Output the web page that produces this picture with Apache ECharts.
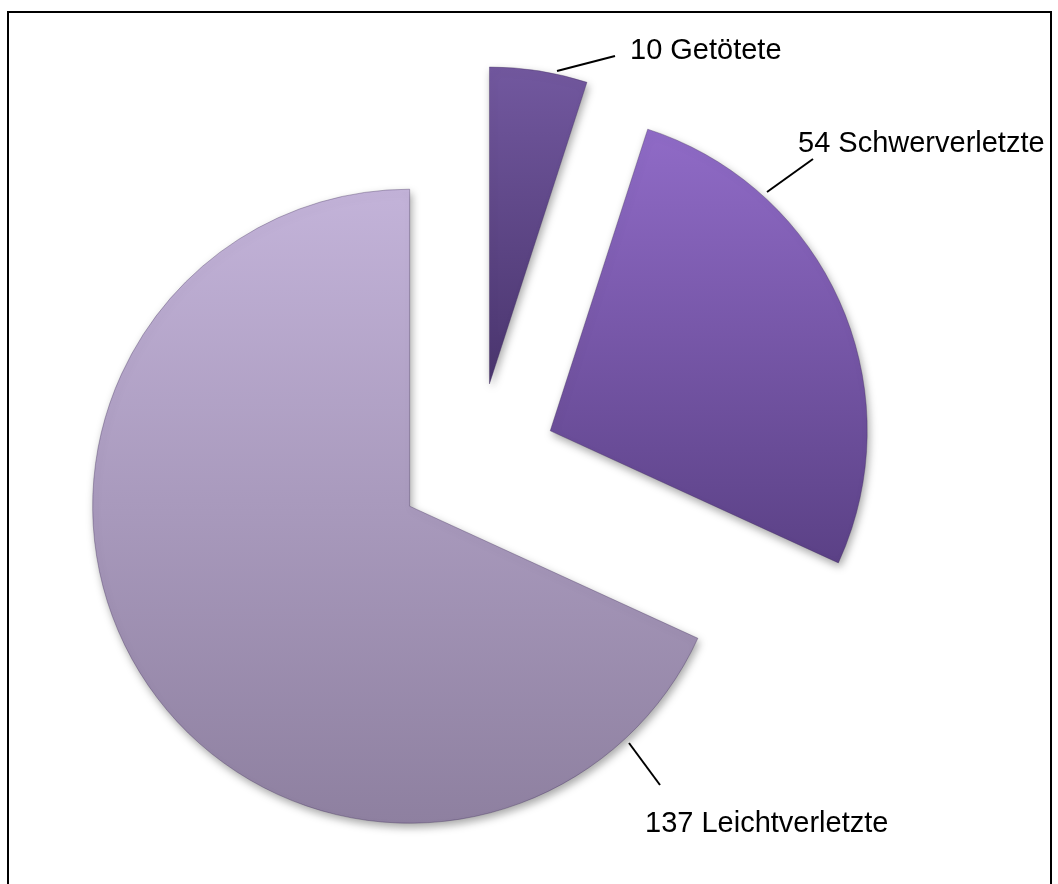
<!DOCTYPE html>
<html>
<head>
<meta charset="utf-8">
<script src="https://cdn.jsdelivr.net/npm/echarts@6/dist/echarts.min.js"></script>
<style>
  html, body { margin: 0; padding: 0; background: #fff; }
  #main { width: 1058px; height: 884px; }
</style>
</head>
<body>
<div id="main"></div>
<script>
// data
const kategorien = ['Getötete', 'Schwerverletzte', 'Leichtverletzte'];
const werte = [10, 54, 137];
const farbenOben = ['#72589f', '#906bc7', '#c3b3d9'];
const farbenUnten = ['#4a356e', '#5b4186', '#8e80a0'];

// layout
const mitte = [477, 463];
const radius = 317;
const explosion = 80;
const labelAnker = [[630, 51], [798, 144], [645, 824]];
const fuehrungslinien = [
    [[557, 71], [615, 56]],
    [[767, 192], [813, 159]],
    [[629, 743], [660, 785]]
];

const chart = echarts.init(document.getElementById('main'));

const summe = werte.reduce((a, b) => a + b, 0);

/* ============================
   ONE SERIES PER EXPLODED SLICE
============================ */
let kumuliert = 0;
const serien = kategorien.map((kat, k) => {
    // bisector of slice k, clockwise from 12 o'clock
    const winkel = (kumuliert + werte[k] / 2) / summe * 2 * Math.PI;
    kumuliert += werte[k];
    const cx = mitte[0] + explosion * Math.sin(winkel);
    const cy = mitte[1] - explosion * Math.cos(winkel);

    const daten = kategorien.map((name, i) => {
        if (i !== k) {
            return {
                name: name,
                value: werte[i],
                itemStyle: { color: 'rgba(0,0,0,0)', shadowColor: 'rgba(0,0,0,0)', borderWidth: 0 },
                label: { show: false },
                labelLine: { show: false }
            };
        }
        return {
            name: name,
            value: werte[i],
            itemStyle: {
                color: new echarts.graphic.LinearGradient(0, 0, 0, 1, [
                    { offset: 0, color: farbenOben[i] },
                    { offset: 1, color: farbenUnten[i] }
                ])
            }
        };
    });

    return {
        type: 'pie',
        center: [cx, cy],
        radius: radius,
        startAngle: 90,
        clockwise: true,
        avoidLabelOverlap: false,
        silent: true,
        itemStyle: {
            shadowBlur: 8,
            shadowOffsetX: 2,
            shadowOffsetY: 4,
            shadowColor: 'rgba(0,0,0,0.35)',
            borderColor: 'rgba(60,40,90,0.35)',
            borderWidth: 1
        },
        label: {
            show: true,
            position: 'outside',
            formatter: '{c} {b}',
            fontFamily: 'Liberation Sans, Arial, sans-serif',
            fontSize: 29,
            color: '#000'
        },
        labelLine: {
            show: true,
            lineStyle: { color: '#000', width: 2 }
        },
        labelLayout: function (params) {
            if (params.dataIndex !== k) {
                return {};
            }
            const p = labelAnker[k];
            return {
                x: p[0],
                y: p[1],
                align: 'left',
                verticalAlign: 'middle',
                labelLinePoints: fuehrungslinien[k]
            };
        },
        emphasis: { disabled: true },
        data: daten
    };
});

chart.setOption({
    animation: false,
    graphic: [{
        type: 'rect',
        shape: { x: 8, y: 12, width: 1043, height: 890 },
        style: { fill: 'none', stroke: '#000', lineWidth: 2 },
        silent: true
    }],
    series: serien
});
</script>
</body>
</html>
